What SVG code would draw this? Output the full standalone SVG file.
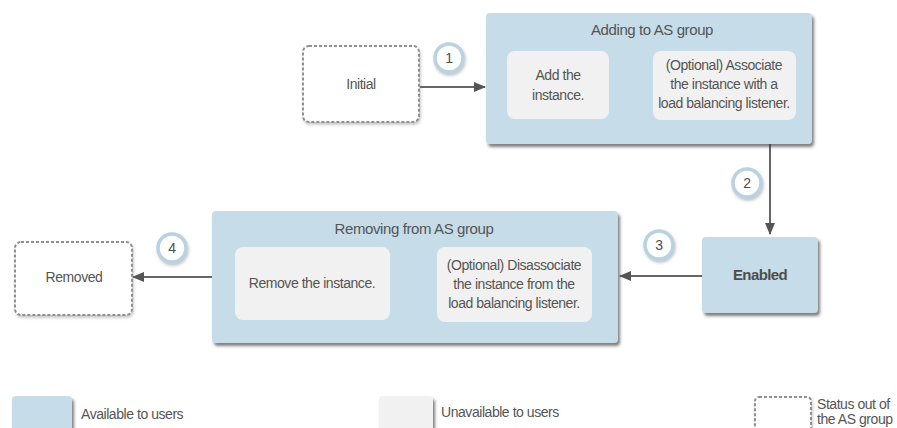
<svg xmlns="http://www.w3.org/2000/svg" width="897" height="428" viewBox="0 0 897 428">
  <defs>
    <filter id="shadow" x="-10%" y="-10%" width="125%" height="130%">
      <feDropShadow dx="2" dy="3" stdDeviation="1.6" flood-color="#3a3a3a" flood-opacity="0.65"/>
    </filter>
    <filter id="softShadow" x="-10%" y="-10%" width="125%" height="130%">
      <feDropShadow dx="1" dy="2" stdDeviation="1.5" flood-color="#666" flood-opacity="0.4"/>
    </filter>
    <marker id="arrow" markerWidth="12" markerHeight="10" refX="11" refY="5" orient="auto" markerUnits="userSpaceOnUse">
      <path d="M0,0 L12,5 L0,10 Z" fill="#555"/>
    </marker>
  </defs>
  <style>
    .group { fill: #c6dce8; filter: url(#shadow); }
    .step { fill: #f1f1f1; }
    .outside { fill: #fff; stroke: #8f8f8f; stroke-width: 2; stroke-dasharray: 3 2; filter: url(#softShadow); }
    .badge { fill: #fff; stroke: #b8d2e2; stroke-width: 3.5; filter: url(#softShadow); }
    .link { stroke: #666; stroke-width: 2; fill: none; marker-end: url(#arrow); }
    text { font-family: "Liberation Sans", Arial, sans-serif; fill: #555; font-size: 14px; letter-spacing: -0.45px; }
    .c { text-anchor: middle; }
    .title { font-size: 15px; letter-spacing: -0.4px; }
    .num { font-size: 14px; text-anchor: middle; fill: #4d4d4d; }
  </style>

  <!-- connectors -->
  <g id="connectors">
    <line class="link" x1="420" y1="87" x2="485" y2="87"/>
    <line class="link" x1="609" y1="86" x2="652" y2="86"/>
    <line class="link" x1="770" y1="144" x2="770" y2="234"/>
    <line class="link" x1="702" y1="276" x2="620" y2="276"/>
    <line class="link" x1="437" y1="281" x2="391" y2="281"/>
    <line class="link" x1="212" y1="277" x2="133" y2="277"/>
  </g>

  <g id="initial">
    <rect class="outside" x="303" y="46" width="116" height="76" rx="6"/>
    <text class="c" x="361" y="89">Initial</text>
  </g>

  <g id="adding">
    <rect class="group" x="486" y="13" width="326" height="131" rx="4"/>
    <text class="c title" x="652" y="35">Adding to AS group</text>
    <g id="add-instance">
      <rect class="step" x="507" y="51" width="102" height="68" rx="8"/>
      <text class="c" x="558" y="80">Add the</text>
      <text class="c" x="558" y="100">instance.</text>
    </g>
    <g id="associate">
      <rect class="step" x="653" y="51" width="143" height="69" rx="8"/>
      <text class="c" x="724" y="70">(Optional) Associate</text>
      <text class="c" x="724" y="89">the instance with a</text>
      <text class="c" x="724" y="108">load balancing listener.</text>
    </g>
  </g>

  <g id="enabled">
    <rect class="group" x="702" y="237" width="116" height="76" rx="4"/>
    <text class="c" x="760" y="280" style="font-size:15px;font-weight:bold;fill:#4d4d4d;letter-spacing:-0.6px">Enabled</text>
  </g>

  <g id="removing">
    <rect class="group" x="212" y="211" width="406" height="132" rx="4"/>
    <text class="c title" x="414" y="234">Removing from AS group</text>
    <g id="remove-instance">
      <rect class="step" x="235" y="247" width="155" height="73" rx="8"/>
      <text class="c" x="312" y="288">Remove the instance.</text>
    </g>
    <g id="disassociate">
      <rect class="step" x="437" y="247" width="155" height="75" rx="8"/>
      <text class="c" x="514" y="270">(Optional) Disassociate</text>
      <text class="c" x="514" y="289">the instance from the</text>
      <text class="c" x="514" y="308">load balancing listener.</text>
    </g>
  </g>

  <g id="removed">
    <rect class="outside" x="15" y="242" width="117" height="73" rx="6"/>
    <text class="c" x="74" y="282">Removed</text>
  </g>

  <g id="badge-1">
    <circle class="badge" cx="449" cy="58" r="14"/>
    <text class="num" x="449" y="63">1</text>
  </g>
  <g id="badge-2">
    <circle class="badge" cx="747" cy="183" r="14"/>
    <text class="num" x="747" y="188">2</text>
  </g>
  <g id="badge-3">
    <circle class="badge" cx="659" cy="245" r="14"/>
    <text class="num" x="659" y="250">3</text>
  </g>
  <g id="badge-4">
    <circle class="badge" cx="172" cy="248" r="14"/>
    <text class="num" x="172" y="253">4</text>
  </g>

  <!-- legend -->
  <g id="legend-available">
    <rect class="group" x="12" y="396" width="60" height="40" rx="4"/>
    <text x="81" y="419">Available to users</text>
  </g>
  <g id="legend-unavailable">
    <rect class="step" x="379" y="396" width="54" height="40" rx="4" filter="url(#shadow)"/>
    <text x="441" y="417">Unavailable to users</text>
  </g>
  <g id="legend-outside">
    <rect class="outside" x="755" y="397" width="56" height="36" rx="4"/>
    <text x="817" y="409">Status out of</text>
    <text x="817" y="424">the AS group</text>
  </g>
</svg>
